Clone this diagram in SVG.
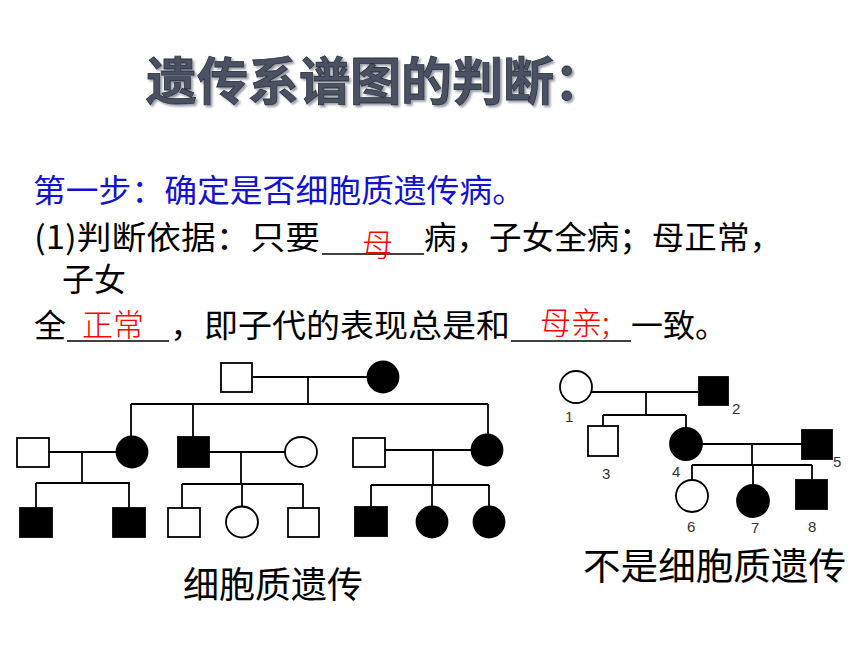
<svg xmlns="http://www.w3.org/2000/svg" width="860" height="645" viewBox="0 0 860 645">
<defs>
<filter id="sh" x="-5%" y="-20%" width="110%" height="150%">
<feDropShadow dx="2" dy="2" stdDeviation="0.8" flood-color="#8e929c" flood-opacity="0.9"/>
</filter>
<style>
.t{font-family:"Noto Sans CJK SC","Noto Sans",sans-serif;}
.blk{fill:#000;font-size:32px;}
.blue{fill:#1212d0;font-size:32px;}
.red{fill:#ff0000;font-size:31px;font-weight:300;}
.title{font-size:51px;font-weight:bold;fill:#4a5163;stroke:#2b303c;stroke-width:0.8;}
.ln{stroke:#000;stroke-width:1.8;fill:none;}
.ul{stroke:#000;stroke-width:1.3;}
.o{fill:#fff;stroke:#000;stroke-width:1.8;}
.f{fill:#000;stroke:#000;stroke-width:1.8;}
.num{font-family:"Liberation Sans","DejaVu Sans",sans-serif;font-size:15px;fill:#333;}
.cap{font-family:"Noto Sans CJK SC","Noto Sans",sans-serif;fill:#000;}
</style>
</defs>
<rect width="860" height="645" fill="#fff"/>

<g id="title">
<text class="t title" x="146" y="100" filter="url(#sh)">遗传系谱图的判断：</text>
</g>

<g id="text">
<text class="t blue" x="33" y="202" textLength="492" lengthAdjust="spacingAndGlyphs">第一步：确定是否细胞质遗传病。</text>
<text class="t blk" x="34" y="249" textLength="286" lengthAdjust="spacingAndGlyphs">(1)判断依据：只要</text>
<line class="ul" x1="322" y1="254" x2="424" y2="254"/>
<text class="t red" x="362" y="256">母</text>
<text class="t blk" x="424" y="249" textLength="358" lengthAdjust="spacingAndGlyphs">病，子女全病；母正常，</text>
<text class="t blk" x="62" y="291">子女</text>
<text class="t blk" x="34" y="337">全</text>
<line class="ul" x1="67" y1="341" x2="169" y2="341"/>
<text class="t red" x="82" y="336">正常</text>
<text class="t blk" x="170" y="337" textLength="340" lengthAdjust="spacingAndGlyphs">，即子代的表现总是和</text>
<line class="ul" x1="511" y1="341" x2="631" y2="341"/>
<text class="t red" x="540" y="334">母亲;</text>
<text class="t blk" x="631" y="337">一致。</text>
</g>

<g id="connectors">
<path class="ln" d="M252 377H367 M308 377V404 M131 404H488 M131 404V436 M193 404V437 M488 404V434"/>
<path class="ln" d="M49 452H116 M82 452V483 M36 483H130 M36 483V508 M129 483V508"/>
<path class="ln" d="M209 452H285 M241 452V484 M182 484H303 M182 484V508 M242 484V506 M303 484V508"/>
<path class="ln" d="M385 450H471 M433 450V485 M371 485H489 M371 485V507 M432 485V506 M489 485V506"/>
<path class="ln" d="M592 392H699 M646 392V415 M603 415H686 M603 415V426 M686 415V428"/>
<path class="ln" d="M702 444H802 M752 444V465 M692 465H812 M692 465V480 M753 465V485 M812 465V479"/>
</g>

<g id="left-pedigree">
<g id="L-I-1"><rect class="o" x="221" y="363" width="31" height="29"/></g>
<g id="L-I-2"><circle class="f" cx="383" cy="377" r="15.5"/></g>
<g id="L-II-1"><rect class="o" x="17" y="438" width="32" height="29"/></g>
<g id="L-II-2"><circle class="f" cx="132" cy="452" r="15.5"/></g>
<g id="L-II-3"><rect class="f" x="178" y="437" width="31" height="30"/></g>
<g id="L-II-4"><ellipse class="o" cx="301" cy="452" rx="16" ry="15"/></g>
<g id="L-II-5"><rect class="o" x="353" y="438" width="32" height="29"/></g>
<g id="L-II-6"><circle class="f" cx="487" cy="450" r="15.5"/></g>
<g id="L-III-1"><rect class="f" x="20" y="508" width="32" height="29"/></g>
<g id="L-III-2"><rect class="f" x="113" y="508" width="32" height="29"/></g>
<g id="L-III-3"><rect class="o" x="168" y="508" width="32" height="29"/></g>
<g id="L-III-4"><ellipse class="o" cx="242" cy="522" rx="16" ry="15.5"/></g>
<g id="L-III-5"><rect class="o" x="288" y="508" width="31" height="29"/></g>
<g id="L-III-6"><rect class="f" x="355" y="507" width="32" height="29"/></g>
<g id="L-III-7"><circle class="f" cx="432" cy="522" r="15.5"/></g>
<g id="L-III-8"><circle class="f" cx="489" cy="522" r="15.5"/></g>
<text class="cap" x="273" y="598" font-size="36" text-anchor="middle">细胞质遗传</text>
</g>

<g id="right-pedigree">
<g id="R-1"><circle class="o" cx="576" cy="387" r="16"/><text class="num" x="565" y="422">1</text></g>
<g id="R-2"><rect class="f" x="699" y="377" width="29" height="28"/><text class="num" x="732" y="414">2</text></g>
<g id="R-3"><rect class="o" x="588" y="426" width="30" height="30"/><text class="num" x="602" y="479">3</text></g>
<g id="R-4"><circle class="f" cx="686" cy="444" r="16"/><text class="num" x="672" y="477">4</text></g>
<g id="R-5"><rect class="f" x="802" y="430" width="30" height="29"/><text class="num" x="833" y="467">5</text></g>
<g id="R-6"><circle class="o" cx="692" cy="496" r="16"/><text class="num" x="687" y="532">6</text></g>
<g id="R-7"><circle class="f" cx="753" cy="501" r="16"/><text class="num" x="751" y="533">7</text></g>
<g id="R-8"><rect class="f" x="796" y="480" width="31" height="29"/><text class="num" x="808" y="532">8</text></g>
<text class="cap" x="583" y="580" font-size="37" textLength="263" lengthAdjust="spacingAndGlyphs">不是细胞质遗传</text>
</g>
</svg>
